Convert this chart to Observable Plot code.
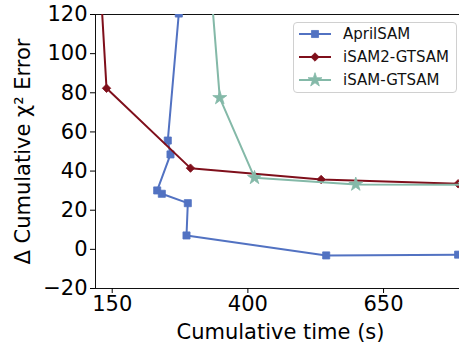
<!DOCTYPE html>
<html>
<head>
<meta charset="utf-8">
<script src="https://cdn.jsdelivr.net/npm/d3@7"></script>
<script src="https://cdn.jsdelivr.net/npm/@observablehq/plot@0.6"></script>
<style>
  html, body { margin: 0; padding: 0; background: #fff; overflow: hidden; width: 459px; height: 350px; }
  #wrap { position: relative; width: 465px; height: 350px; font-family: "DejaVu Sans", sans-serif; }
  #legend { position: absolute; left: 293px; top: 22px; width: 164px; height: 71px; border: 1px solid #d0d0d0; border-radius: 4px; background: rgba(255,255,255,0.85); box-sizing: border-box; }
  .sw { position: absolute; left: 4px; width: 34px; height: 20px; display: block; }
  .lab { position: absolute; left: 49px; font-size: 15px; line-height: 20px; height: 20px; color: #111; white-space: nowrap; }
</style>
</head>
<body>
<div id="wrap"></div>
<script>
// Data
const seriesNames = ["AprilSAM", "iSAM2-GTSAM", "iSAM-GTSAM"];
const seriesColors = ["#5272c2", "#7f0f1b", "#84b9a8"];
const seriesSymbols = ["square", "diamond2", "star"];

const aprilTime = [272.7, 252.4, 257.4, 232.9, 241.4, 289.3, 286.9, 544.3, 787.4];
const aprilErr  = [120.5, 55.6, 48.5, 30.1, 28.4, 23.6, 7.1, -3.1, -2.7];

const isam2Time = [119, 139.5, 294.2, 535, 787.4];
const isam2Err  = [180, 82.3, 41.5, 35.7, 33.5];

const isamTime = [313, 348.2, 412.2, 598.8, 800];
const isamErr  = [200, 77.4, 36.6, 33.2, 33.0];

const xTicks = [150, 400, 650];
const yTicks = [-20, 0, 20, 40, 60, 80, 100, 120];

const rows = [];
[[aprilTime, aprilErr], [isam2Time, isam2Err], [isamTime, isamErr]].forEach(([t, e], s) => {
  t.forEach((v, i) => rows.push({series: seriesNames[s], time: v, err: e[i], order: i}));
});

const radii = {"AprilSAM": 4, "iSAM2-GTSAM": 3.8, "iSAM-GTSAM": 4.4};

const marks = [];
seriesNames.forEach((name, s) => {
  const d = rows.filter(r => r.series === name);
  marks.push(Plot.line(d, {x: "time", y: "err", stroke: seriesColors[s], strokeWidth: 2, clip: true}));
  marks.push(Plot.dot(d, {x: "time", y: "err", symbol: seriesSymbols[s], fill: seriesColors[s], stroke: seriesColors[s], strokeWidth: 0.8, r: radii[name], clip: true}));
});

const chart = Plot.plot({
  width: 465,
  height: 350,
  marginLeft: 95,
  marginRight: 0,
  marginTop: 14,
  marginBottom: 62,
  style: {fontFamily: "DejaVu Sans, sans-serif", color: "#000", background: "transparent", overflow: "visible"},
  x: {domain: [119.2, 801]},
  y: {domain: [-20, 120]},
  marks: [
    Plot.frame({stroke: "#111", strokeWidth: 1}),
    Plot.axisX({ticks: xTicks, tickSize: 5, tickPadding: 3, fontSize: 21, label: "Cumulative time (s)", labelAnchor: "center", labelArrow: "none", labelOffset: 50}),
    Plot.axisY({ticks: yTicks, tickSize: 5, tickPadding: 3, fontSize: 21, tickFormat: d => d < 0 ? "\u2212" + Math.abs(d) : String(d), label: "\u0394 Cumulative \u03c7\u00b2 Error", labelAnchor: "center", labelArrow: "none", labelOffset: 80}),
    ...marks
  ]
});
chart.querySelectorAll("text").forEach(t => { t.style.fontSize = "21px"; });
document.getElementById("wrap").appendChild(chart);

// Legend
const legend = document.createElement("div");
legend.id = "legend";
seriesNames.forEach((name, s) => {
  const top = s * 23 + 1;
  const svg = d3.create("svg").attr("class", "sw").attr("width", 34).attr("height", 20).style("top", top + "px");
  svg.append("line").attr("x1", 1).attr("x2", 33).attr("y1", 10).attr("y2", 10).attr("stroke", seriesColors[s]).attr("stroke-width", 2);
  const sym = {square: d3.symbolSquare, diamond2: d3.symbolDiamond2, star: d3.symbolStar}[seriesSymbols[s]];
  const r = radii[name];
  svg.append("path").attr("transform", "translate(17,10)").attr("d", d3.symbol(sym, Math.PI * r * r)()).attr("fill", seriesColors[s]).attr("stroke", seriesColors[s]).attr("stroke-width", 0.8);
  legend.appendChild(svg.node());
  const label = document.createElement("div");
  label.className = "lab";
  label.style.top = top + "px";
  label.textContent = name;
  legend.appendChild(label);
});
document.getElementById("wrap").appendChild(legend);
</script>
</body>
</html>
